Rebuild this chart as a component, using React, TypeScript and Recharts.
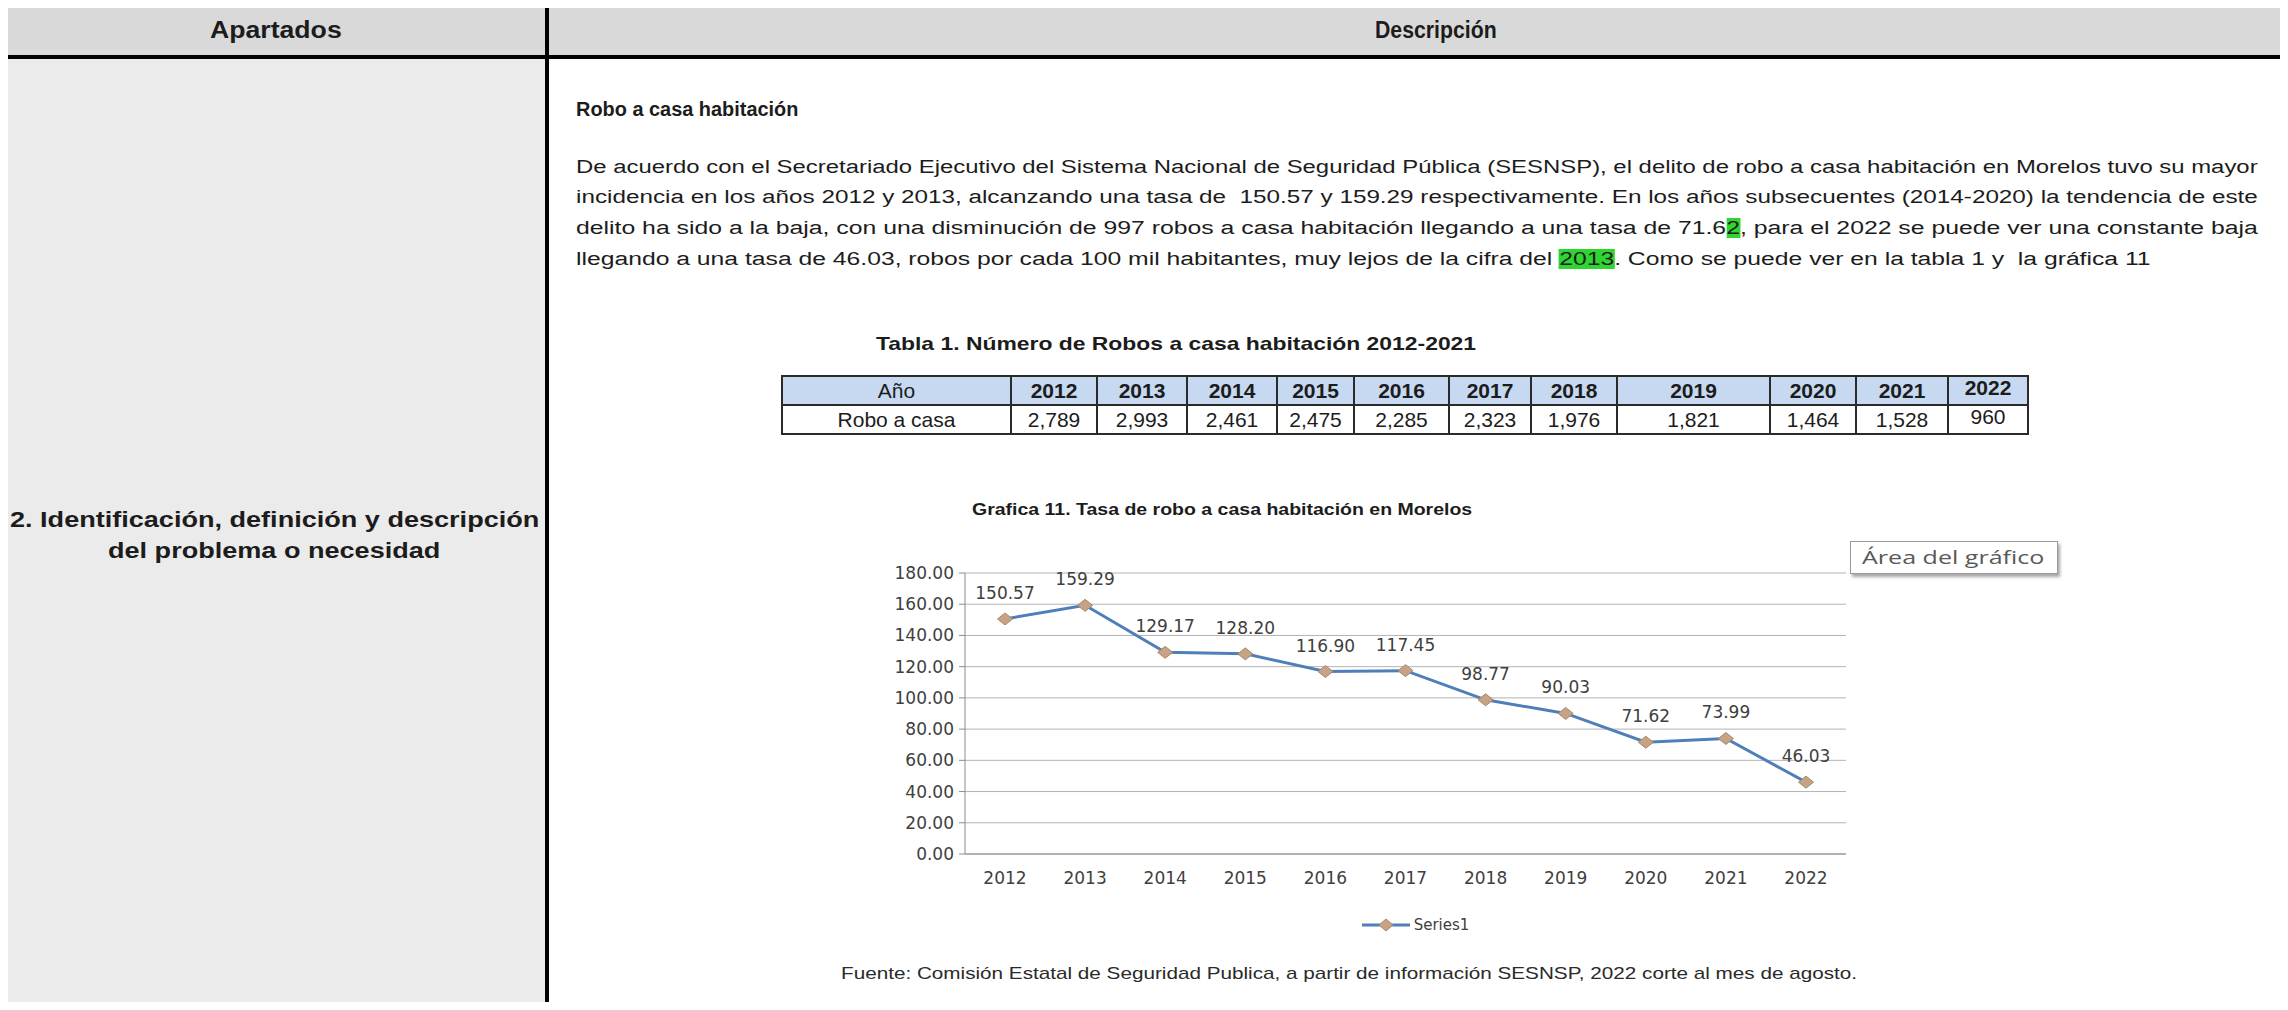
import React, { useLayoutEffect, useRef, useState } from "react";
import { CartesianGrid, LabelList, Legend, Line, LineChart, XAxis, YAxis } from "recharts";

const YEARS = ["2012", "2013", "2014", "2015", "2016", "2017", "2018", "2019", "2020", "2021", "2022"];
const TASA = [150.57, 159.29, 129.17, 128.2, 116.9, 117.45, 98.77, 90.03, 71.62, 73.99, 46.03];
const ROBOS = [2789, 2993, 2461, 2475, 2285, 2323, 1976, 1821, 1464, 1528, 960];
const Y_TICKS = [0, 20, 40, 60, 80, 100, 120, 140, 160, 180];
const COL_WIDTHS = [229, 86, 90, 90, 77, 95, 82, 86, 153, 86, 92, 80];

const SANS = '"Liberation Sans", Arial, sans-serif';
const DV = '"DejaVu Sans", Verdana, sans-serif';
const LINE = "#4f7fb8";
const MARK = "#c6a385";

const rows = YEARS.map((year, i) => ({ year, tasa: TASA[i] }));

// one line of text, stretched to width w (or by factor k) like the scanned page
function Fit({ x, y, w, k: fixedK, size, weight = 400, color = "#1c1c1c", family = SANS, center = false, children }: any) {
  const ref = useRef<HTMLSpanElement>(null);
  const [k, setK] = useState(fixedK ?? 1);
  const [nat, setNat] = useState(0);
  useLayoutEffect(() => {
    const el = ref.current;
    if (!el || el.offsetWidth <= 0) return;
    setNat(el.offsetWidth);
    setK(fixedK ?? w / el.offsetWidth);
  }, [w, fixedK]);
  const width = w ?? nat * k;
  return (
    <span
      ref={ref}
      style={{
        position: "absolute",
        left: center ? x - width / 2 : x,
        top: y - size / 2,
        fontSize: size,
        lineHeight: `${size}px`,
        fontFamily: family,
        fontWeight: weight,
        color,
        whiteSpace: "pre",
        transform: `scaleX(${k})`,
        transformOrigin: "0 0",
      }}
    >
      {children}
    </span>
  );
}

const hl = { background: "#30d630", color: "inherit" };

function Diamond(props: any) {
  const { cx, cy, index } = props;
  if (cx == null || cy == null) return null;
  return (
    <polygon
      key={`d-${index}`}
      points={`${cx},${cy - 6} ${cx + 7.5},${cy} ${cx},${cy + 6} ${cx - 7.5},${cy}`}
      fill={MARK}
      stroke="#a8876a"
      strokeWidth={1}
    />
  );
}

function LegendBox() {
  return (
    <div style={{ display: "flex", justifyContent: "center", alignItems: "center", gap: 2 }}>
      <svg width={52} height={16}>
        <line x1={2} y1={8} x2={50} y2={8} stroke={LINE} strokeWidth={3} />
        <polygon points="26,2 33,8 26,14 19,8" fill={MARK} stroke="#a8876a" />
      </svg>
      <span style={{ fontFamily: DV, fontSize: 15, color: "#404040" }}>Series1</span>
    </div>
  );
}

function Tasa() {
  return (
    <div style={{ position: "absolute", left: 818, top: 540, width: 1083, height: 420 }}>
      <LineChart width={1083} height={420} data={rows} margin={{ top: 33, right: 55, bottom: 76, left: 0 }}>
        <CartesianGrid vertical={false} stroke="#b3b3b3" />
        <XAxis
          dataKey="year"
          interval={0}
          height={30}
          padding={{ left: 40, right: 40 }}
          axisLine={{ stroke: "#8c8c8c" }}
          tickLine={false}
          tickSize={0}
          tickMargin={18}
          tick={{ fontSize: 17, fontFamily: DV, fill: "#404040" }}
        />
        <YAxis
          domain={[0, 180]}
          ticks={Y_TICKS}
          width={147}
          tickFormatter={(v: number) => v.toFixed(2)}
          axisLine={{ stroke: "#8c8c8c" }}
          tickLine={{ stroke: "#8c8c8c" }}
          tickSize={6}
          tickMargin={5}
          tick={{ fontSize: 17, fontFamily: DV, fill: "#404040" }}
        />
        <Legend
          layout="horizontal"
          verticalAlign="middle"
          align="center"
          content={() => <LegendBox />}
          wrapperStyle={{ top: 376, left: 55, width: 1083 }}
        />
        <Line
          type="linear"
          dataKey="tasa"
          stroke={LINE}
          strokeWidth={3}
          dot={Diamond}
          activeDot={false}
          isAnimationActive={false}
        >
          <LabelList
            dataKey="tasa"
            position="top"
            offset={20}
            formatter={(v: any) => Number(v).toFixed(2)}
            style={{ fontSize: 17, fontFamily: DV, fill: "#404040" }}
          />
        </Line>
      </LineChart>
    </div>
  );
}

function Tabla() {
  const cell = { border: "2px solid #2a2a2a", padding: 0, textAlign: "center" as const, height: 27, lineHeight: "27px" };
  // the last column sits a little higher in the source
  const last = { ...cell, lineHeight: "21px", verticalAlign: "top" as const };
  return (
    <table
      style={{
        position: "absolute",
        left: 781,
        top: 375,
        width: 1246,
        borderCollapse: "collapse",
        tableLayout: "fixed",
        fontFamily: SANS,
        fontSize: 21,
        color: "#1c1c1c",
      }}
    >
      <colgroup>
        {COL_WIDTHS.map((w, i) => (
          <col key={i} style={{ width: w }} />
        ))}
      </colgroup>
      <tbody>
        <tr style={{ background: "#c6d9f1" }}>
          <td style={cell}>Año</td>
          {YEARS.map((y, i) => (
            <td key={y} style={{ ...(i === YEARS.length - 1 ? last : cell), fontWeight: 700 }}>
              {y}
            </td>
          ))}
        </tr>
        <tr>
          <td style={cell}>Robo a casa</td>
          {ROBOS.map((v, i) => (
            <td key={i} style={i === ROBOS.length - 1 ? last : cell}>
              {v.toLocaleString("en-US")}
            </td>
          ))}
        </tr>
      </tbody>
    </table>
  );
}

export default function App() {
  return (
    <div style={{ position: "relative", width: 2288, height: 1010, margin: -8, background: "#fff", overflow: "hidden" }}>
      {/* frame */}
      <div style={{ position: "absolute", left: 5, top: 5, width: 2278, height: 51, background: "#d9d9d9" }} />
      <div style={{ position: "absolute", left: 5, top: 58, width: 540, height: 945, background: "#ebebeb" }} />
      <div style={{ position: "absolute", left: 2, top: 2, width: 2284, height: 1006, border: "4px solid #000", boxSizing: "border-box" }} />
      <div style={{ position: "absolute", left: 2, top: 55, width: 2284, height: 4, background: "#000" }} />
      <div style={{ position: "absolute", left: 545, top: 2, width: 4, height: 1006, background: "#000" }} />

      <Fit x={276} y={30} w={132} size={23} weight={700} center>Apartados</Fit>
      <Fit x={1436} y={30} w={122} size={23} weight={700} center>Descripción</Fit>

      <Fit x={274} y={520} k={1.23} size={22} weight={700} center>2. Identificación, definición y descripción</Fit>
      <Fit x={274} y={551} k={1.23} size={22} weight={700} center>del problema o necesidad</Fit>

      <Fit x={576} y={109} w={222} size={20} weight={700}>Robo a casa habitación</Fit>
      <Fit x={576} y={167} w={1682} size={18}>
        De acuerdo con el Secretariado Ejecutivo del Sistema Nacional de Seguridad Pública (SESNSP), el delito de robo a casa habitación en Morelos tuvo su mayor
      </Fit>
      <Fit x={576} y={197} w={1682} size={18}>
        incidencia en los años 2012 y 2013, alcanzando una tasa de  150.57 y 159.29 respectivamente. En los años subsecuentes (2014-2020) la tendencia de este
      </Fit>
      <Fit x={576} y={228} w={1682} size={18}>
        delito ha sido a la baja, con una disminución de 997 robos a casa habitación llegando a una tasa de 71.6<span style={hl}>2</span>, para el 2022 se puede ver una constante baja
      </Fit>
      <Fit x={576} y={259} w={1574} size={18}>
        llegando a una tasa de 46.03, robos por cada 100 mil habitantes, muy lejos de la cifra del <span style={hl}>2013</span>. Como se puede ver en la tabla 1 y  la gráfica 11
      </Fit>

      <Fit x={1176} y={343} w={600} size={19} weight={700} center>Tabla 1. Número de Robos a casa habitación 2012-2021</Fit>
      <Tabla />

      <Fit x={1222} y={509} w={500} size={17} weight={700} center>Grafica 11. Tasa de robo a casa habitación en Morelos</Fit>
      <Tasa />

      <div
        style={{
          position: "absolute",
          left: 1850,
          top: 541,
          width: 208,
          height: 33,
          border: "1px solid #9a9a9a",
          background: "#fff",
          boxShadow: "2px 3px 3px rgba(0,0,0,0.35)",
          boxSizing: "border-box",
        }}
      />
      <Fit x={1862} y={557} w={182} size={19} color="#595959" family='"Open Sans", sans-serif'>Área del gráfico</Fit>

      <Fit x={1349} y={973} w={1016} size={17} color="#2a2a2a" center>
        Fuente: Comisión Estatal de Seguridad Publica, a partir de información SESNSP, 2022 corte al mes de agosto.
      </Fit>
    </div>
  );
}
